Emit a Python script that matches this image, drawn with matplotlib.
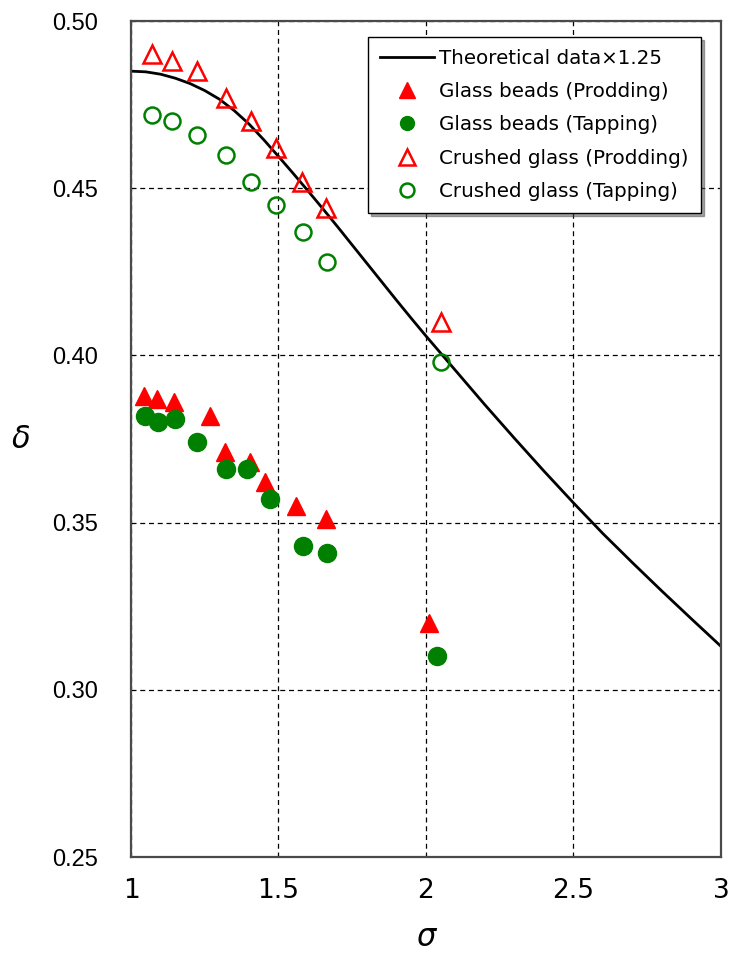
import matplotlib
matplotlib.use("Agg")
import matplotlib.pyplot as plt

# ─── Data ────────────────────────────────────────────────────────────────────

# theoretical curve (x 1.25), read every 0.05 up to 2.0, then every 0.1
theory_sigma = [1.0, 1.05, 1.1, 1.15, 1.2, 1.25, 1.3, 1.35, 1.4, 1.45, 1.5,
                1.55, 1.6, 1.65, 1.7, 1.75, 1.8, 1.85, 1.9, 1.95, 2.0,
                2.1, 2.2, 2.3, 2.4, 2.5, 2.6, 2.7, 2.8, 2.9, 3.0]
theory_delta = [0.4850, 0.4848, 0.4841, 0.4829, 0.4813, 0.4792, 0.4766,
                0.4732, 0.4692, 0.4645, 0.4595, 0.4544, 0.4492, 0.4439,
                0.4385, 0.4330, 0.4275, 0.4220, 0.4165, 0.4111, 0.4058,
                0.3955, 0.3852, 0.3752, 0.3654, 0.3559, 0.3467, 0.3380,
                0.3295, 0.3212, 0.3130]

# glass beads, prodding
gb_prod_sigma = [1.044, 1.088, 1.146, 1.268, 1.319, 1.403, 1.454, 1.559, 1.661, 2.010]
gb_prod_delta = [0.388, 0.387, 0.386, 0.382, 0.371, 0.368, 0.362, 0.355, 0.351, 0.320]

# glass beads, tapping
gb_tap_sigma = [1.047, 1.092, 1.149, 1.224, 1.322, 1.393, 1.471, 1.583, 1.664, 2.037]
gb_tap_delta = [0.382, 0.380, 0.381, 0.374, 0.366, 0.366, 0.357, 0.343, 0.341, 0.310]

# crushed glass, prodding
cg_prod_sigma = [1.071, 1.139, 1.224, 1.322, 1.407, 1.492, 1.580, 1.661, 2.051]
cg_prod_delta = [0.490, 0.488, 0.485, 0.477, 0.470, 0.462, 0.452, 0.444, 0.410]

# crushed glass, tapping
cg_tap_sigma = [1.071, 1.139, 1.224, 1.322, 1.407, 1.492, 1.583, 1.664, 2.051]
cg_tap_delta = [0.472, 0.470, 0.466, 0.460, 0.452, 0.445, 0.437, 0.428, 0.398]

x_ticks = [1, 1.5, 2, 2.5, 3]
x_tick_labels = ["1", "1.5", "2", "2.5", "3"]
y_ticks = [0.25, 0.30, 0.35, 0.40, 0.45, 0.50]
y_tick_labels = ["0.25", "0.30", "0.35", "0.40", "0.45", "0.50"]

# ─── Plot ────────────────────────────────────────────────────────────────────

red = "#ff0000"
green = "#008000"

fig = plt.figure(figsize=(7.29, 9.55), dpi=100)
ax = fig.add_axes([0.1797, 0.1026, 0.8093, 0.8754])

ax.plot(theory_sigma, theory_delta, color="black", lw=2.0,
        label="Theoretical data\u00d71.25", zorder=2)
ax.plot(gb_prod_sigma, gb_prod_delta, ls="none", marker="^", ms=13,
        color=red, mec=red, label="Glass beads (Prodding)", zorder=3)
ax.plot(gb_tap_sigma, gb_tap_delta, ls="none", marker="o", ms=13,
        color=green, mec=green, label="Glass beads (Tapping)", zorder=3)
ax.plot(cg_prod_sigma, cg_prod_delta, ls="none", marker="^", ms=13,
        mfc="none", mec=red, mew=1.8, label="Crushed glass (Prodding)", zorder=3)
ax.plot(cg_tap_sigma, cg_tap_delta, ls="none", marker="o", ms=11.5,
        mfc="none", mec=green, mew=1.8, label="Crushed glass (Tapping)", zorder=3)

ax.set_xlim(1, 3)
ax.set_ylim(0.25, 0.50)

ax.set_xticks(x_ticks)
ax.set_xticklabels(x_tick_labels, family=["Liberation Sans Narrow", "DejaVu Sans"],
                   fontsize=19)
ax.set_yticks(y_ticks)
ax.set_yticklabels(y_tick_labels, family="Liberation Sans", fontsize=17)
ax.tick_params(axis="both", length=0)
ax.tick_params(axis="x", pad=15)
ax.tick_params(axis="y", pad=24)

# dashed grid
ax.grid(True, color="black", ls=(0, (4, 3)), lw=0.9)
ax.set_axisbelow(True)

for s in ax.spines.values():
    s.set_color("#4a4a4a")
    s.set_linewidth(1.6)

ax.set_xlabel("\u03c3", fontsize=22, style="italic", family="DejaVu Sans",
              labelpad=14)
ax.set_ylabel("\u03b4", fontsize=22, style="italic", family="DejaVu Sans",
              rotation=0, labelpad=22, va="center")

leg = ax.legend(loc="upper left", bbox_to_anchor=(0.4017, 0.981),
                borderaxespad=0, frameon=True, fancybox=False, shadow=True,
                prop={"family": "DejaVu Sans", "size": 14.3},
                handlelength=2.7, handletextpad=0.3, labelspacing=0.72,
                borderpad=0.6, numpoints=1)
leg.get_frame().set_edgecolor("black")
leg.get_frame().set_linewidth(1.0)
for h in leg.legend_handles[1:]:
    h.set_markersize(11 if h.get_marker() == "^" else 10)

plt.savefig("out.png", dpi=100)
